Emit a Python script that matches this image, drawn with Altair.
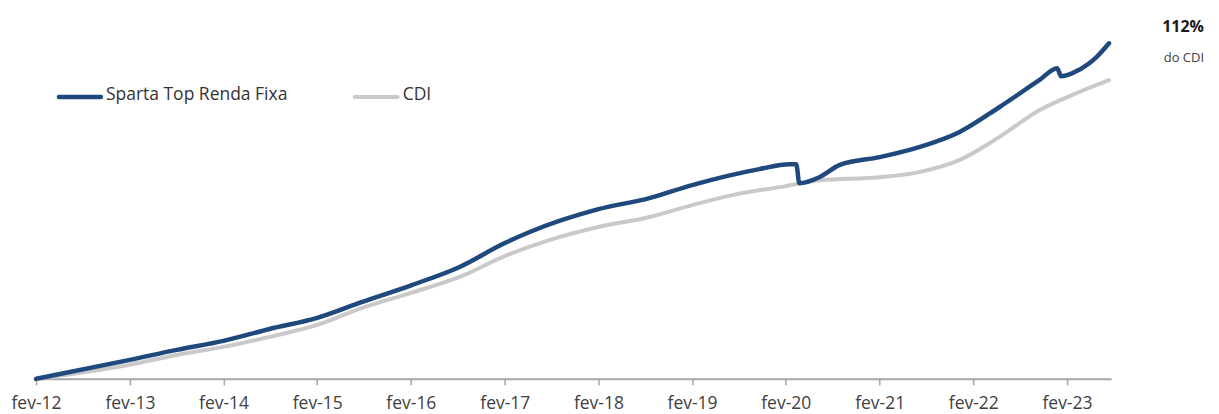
import altair as alt
import pandas as pd

# ---- data (cumulative return, %) ----
sparta_dates = ["2012-02-01", "2013-02-01", "2013-08-03", "2014-02-01", "2014-07-30",
                "2015-02-01", "2015-07-27", "2016-02-05", "2016-08-09", "2017-02-01",
                "2017-05-09", "2018-02-01", "2018-08-19", "2019-02-01", "2019-10-21",
                "2020-02-15", "2020-03-13", "2020-03-25", "2020-06-11", "2020-08-28",
                "2021-02-01", "2021-07-05", "2021-12-08", "2022-05-13", "2022-10-16",
                "2022-12-25", "2023-01-09", "2023-02-22", "2023-04-29", "2023-05-27",
                "2023-07-15"]
sparta_values = [0, 10.8, 16.5, 21.6, 28.4, 34.7, 43.8, 53.4, 63.7, 77.3,
                 83.6, 96.6, 102.9, 110.3, 119.4, 122.2, 122.2, 111.4, 114.8, 121.7,
                 126.2, 131.9, 140.4, 154.6, 170.0, 176.8, 172.3, 174.0, 179.6, 183.1,
                 191.0]

cdi_dates = ["2012-02-01", "2013-02-01", "2013-08-03", "2014-02-01", "2014-07-30",
             "2015-02-01", "2015-07-27", "2016-02-01", "2016-08-09", "2017-02-01",
             "2017-07-25", "2018-02-01", "2018-08-19", "2019-02-01", "2019-07-08",
             "2020-02-01", "2020-06-11", "2021-02-01", "2021-07-05", "2021-12-08",
             "2022-05-13", "2022-10-16", "2023-03-20", "2023-07-15"]
cdi_values = [0, 8.0, 13.6, 18.2, 23.9, 30.7, 40.4, 48.9, 58.0, 69.9,
              79.0, 86.4, 92.1, 98.9, 104.6, 109.7, 113.1, 114.8, 117.7, 124.5,
              137.6, 152.9, 163.2, 170.0]

series_names = ["Sparta Top Renda Fixa", "CDI"]
tick_years = list(range(2012, 2024))
annotation_main = "112%"
annotation_sub = "do CDI"

BLUE = "#1F497D"
GRAY = "#C9C9C9"
FONT = "Open Sans"

sparta_df = pd.DataFrame({"date": pd.to_datetime(sparta_dates), "value": sparta_values,
                          "serie": series_names[0]})
cdi_df = pd.DataFrame({"date": pd.to_datetime(cdi_dates), "value": cdi_values,
                       "serie": series_names[1]})

x_scale = alt.Scale(domain=[alt.DateTime(year=2012, month=2, date=1),
                            alt.DateTime(year=2023, month=7, date=23)], nice=False)
y_scale = alt.Scale(domain=[0, 211], nice=False, zero=True)

x_axis = alt.Axis(
    values=[alt.DateTime(year=y, month=2, date=1) for y in tick_years],
    labelExpr="'fev-' + timeFormat(datum.value, '%y')",
    title=None, grid=False,
    domainColor="#A6A6A6", domainWidth=2,
    tickColor="#A6A6A6", tickWidth=1.5, tickSize=6,
    labelFont=FONT, labelFontSize=17.5, labelColor="#404040",
    labelPadding=24, labelBaseline="alphabetic",
    labelFlush=False, labelOverlap=False,
)

cdi_line = alt.Chart(cdi_df).mark_line(color=GRAY, strokeWidth=4, strokeCap="round",
                                       strokeJoin="round", interpolate="monotone").encode(
    x=alt.X("date:T", scale=x_scale, axis=x_axis),
    y=alt.Y("value:Q", scale=y_scale, axis=None),
)

sparta_line = alt.Chart(sparta_df).mark_line(color=BLUE, strokeWidth=4.5, strokeCap="round",
                                             strokeJoin="round", interpolate="monotone").encode(
    x=alt.X("date:T", scale=x_scale, axis=x_axis),
    y=alt.Y("value:Q", scale=y_scale, axis=None),
)

blank = alt.Data(values=[{}])

# manual legend
leg_sparta_line = alt.Chart(blank).mark_rule(color=BLUE, strokeWidth=4.5, strokeCap="round").encode(
    x=alt.value(23), x2=alt.value(65), y=alt.value(89))
leg_sparta_text = alt.Chart(blank).mark_text(
    text=series_names[0], align="left", baseline="middle", font=FONT, fontSize=17.5,
    color="#333333").encode(x=alt.value(70), y=alt.value(87))
leg_cdi_line = alt.Chart(blank).mark_rule(color=GRAY, strokeWidth=4, strokeCap="round").encode(
    x=alt.value(319), x2=alt.value(362), y=alt.value(89))
leg_cdi_text = alt.Chart(blank).mark_text(
    text=series_names[1], align="left", baseline="middle", font=FONT, fontSize=17.5,
    color="#333333").encode(x=alt.value(367), y=alt.value(87))

# annotation
ann_main = alt.Chart(blank).mark_text(
    text=annotation_main, align="right", baseline="middle", font=FONT, fontSize=16,
    fontWeight="bold", color="#1A1A1A").encode(x=alt.value(1169), y=alt.value(19))
ann_sub = alt.Chart(blank).mark_text(
    text=annotation_sub, align="right", baseline="middle", font=FONT, fontSize=13,
    color="#404040").encode(x=alt.value(1169), y=alt.value(50))

chart = alt.layer(
    cdi_line, sparta_line,
    leg_sparta_line, leg_sparta_text, leg_cdi_line, leg_cdi_text,
    ann_main, ann_sub,
).properties(
    width=1076, height=371,
    autosize=alt.AutoSizeParams(type="none"),
    padding={"left": 28, "top": 0, "right": 100, "bottom": 35},
    background="white",
).configure_view(stroke=None)

chart.save("out.html", embed_options={"renderer": "svg", "actions": False})
